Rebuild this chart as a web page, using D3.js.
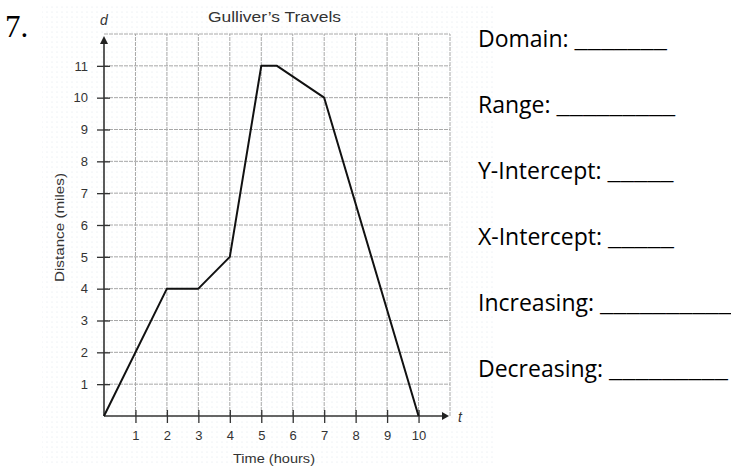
<!DOCTYPE html>
<html>
<head>
<meta charset="utf-8">
<script src="https://cdn.jsdelivr.net/npm/d3@7"></script>
<style>
  body { margin: 0; background: #fff; }
  svg { display: block; }
</style>
</head>
<body>
<script>
// time (hours) and distance (miles)
var times = [0, 2, 3, 4, 5, 5.5, 7, 10];
var distances = [0, 4, 4, 5, 11, 11, 10, 0];
var xTicks = [1, 2, 3, 4, 5, 6, 7, 8, 9, 10];
var yTicks = [1, 2, 3, 4, 5, 6, 7, 8, 9, 10, 11];
var labels = ["Domain:", "Range:", "Y-Intercept:", "X-Intercept:", "Increasing:", "Decreasing:"];
var blanks = [7, 9, 5, 5, 10, 9]; // underscores after each label

var svg = d3.select("body").append("svg")
    .attr("width", 731)
    .attr("height", 466);

// faint halftone dots of the scan
var defs = svg.append("defs");
defs.append("pattern")
    .attr("id", "dots")
    .attr("width", 5).attr("height", 5)
    .attr("patternUnits", "userSpaceOnUse")
  .append("circle")
    .attr("cx", 2).attr("cy", 2).attr("r", 0.6)
    .attr("fill", "#dde4ea");
svg.append("rect")
    .attr("x", 42).attr("y", 6)
    .attr("width", 453).attr("height", 460)
    .attr("fill", "url(#dots)");

var x = d3.scaleLinear().domain([0, 11]).range([104, 450]);
var y = d3.scaleLinear().domain([0, 12]).range([416, 34]);
var sans = "Liberation Sans, Arial, sans-serif";

// grid
var grid = svg.append("g").attr("stroke", "#a8a8a8").attr("stroke-width", 1)
    .attr("stroke-dasharray", "4,1");
grid.selectAll("line.v").data(d3.range(1, 12)).enter().append("line")
    .attr("class", "v")
    .attr("x1", function(d) { return x(d); }).attr("x2", function(d) { return x(d); })
    .attr("y1", y(0)).attr("y2", y(12));
grid.selectAll("line.h").data(d3.range(1, 13)).enter().append("line")
    .attr("class", "h")
    .attr("x1", x(0)).attr("x2", x(11))
    .attr("y1", function(d) { return y(d); }).attr("y2", function(d) { return y(d); });

// axes with ticks crossing the axis line
var xAxis = svg.append("g")
    .attr("transform", "translate(0," + y(0) + ")")
    .call(d3.axisBottom(x).tickValues(xTicks).tickSize(7).tickSizeOuter(0).tickPadding(8));
xAxis.select(".domain").remove();
xAxis.selectAll(".tick line").attr("y1", -6).attr("stroke", "#333").attr("stroke-width", 1.3);
xAxis.selectAll(".tick text").attr("font-family", sans)
    .attr("font-size", 13).attr("fill", "#333");

var yAxis = svg.append("g")
    .attr("transform", "translate(" + x(0) + ",0)")
    .call(d3.axisLeft(y).tickValues(yTicks).tickSize(7).tickSizeOuter(0).tickPadding(9));
yAxis.select(".domain").remove();
yAxis.selectAll(".tick line").attr("x1", 6).attr("stroke", "#333").attr("stroke-width", 1.3);
yAxis.selectAll(".tick text").attr("font-family", sans)
    .attr("font-size", 13).attr("fill", "#333");

// axis lines with arrowheads
svg.append("line")
    .attr("x1", x(0)).attr("x2", x(11) - 6)
    .attr("y1", y(0)).attr("y2", y(0))
    .attr("stroke", "#333").attr("stroke-width", 1.6);
svg.append("path")
    .attr("d", "M" + (x(11) - 8) + "," + (y(0) - 4) + "L" + (x(11) - 1) + "," + y(0) +
                "L" + (x(11) - 8) + "," + (y(0) + 4) + "Z")
    .attr("fill", "#222");
svg.append("line")
    .attr("x1", x(0)).attr("x2", x(0))
    .attr("y1", y(0)).attr("y2", y(12) + 8)
    .attr("stroke", "#333").attr("stroke-width", 1.6);
svg.append("path")
    .attr("d", "M" + (x(0) - 4) + "," + (y(12) + 10) + "L" + x(0) + "," + (y(12) + 2) +
                "L" + (x(0) + 4) + "," + (y(12) + 10) + "Z")
    .attr("fill", "#222");

// axis letters and titles
svg.append("text").attr("x", x(11) + 8).attr("y", y(0) + 6)
    .attr("font-family", sans).attr("font-style", "italic").attr("font-size", 14)
    .attr("fill", "#333").text("t");
svg.append("text").attr("x", x(0)).attr("y", 25)
    .attr("text-anchor", "middle")
    .attr("font-family", sans).attr("font-style", "italic").attr("font-size", 14)
    .attr("fill", "#333").text("d");
svg.append("text").attr("x", 208).attr("y", 22)
    .attr("textLength", 133).attr("lengthAdjust", "spacingAndGlyphs")
    .attr("font-family", sans).attr("font-size", 15.5)
    .attr("fill", "#333").text("Gulliver\u2019s Travels");
svg.append("text").attr("x", 233).attr("y", 463)
    .attr("textLength", 82).attr("lengthAdjust", "spacingAndGlyphs")
    .attr("font-family", sans).attr("font-size", 13)
    .attr("fill", "#333").text("Time (hours)");
svg.append("text")
    .attr("transform", "translate(64,282) rotate(-90)")
    .attr("textLength", 109).attr("lengthAdjust", "spacingAndGlyphs")
    .attr("font-family", sans).attr("font-size", 13.5)
    .attr("fill", "#333").text("Distance (miles)");

// the travel line
var line = d3.line()
    .x(function(d, i) { return x(times[i]); })
    .y(function(d, i) { return y(distances[i]); });
svg.append("path")
    .datum(times)
    .attr("d", line)
    .attr("fill", "none")
    .attr("stroke", "#111")
    .attr("stroke-width", 2)
    .attr("stroke-linejoin", "round");

// question number
svg.append("text").attr("x", 5).attr("y", 37)
    .attr("font-family", "Liberation Serif, Times New Roman, serif")
    .attr("font-size", 31).attr("fill", "#000").text("7.");

// worksheet prompts
var q = svg.selectAll("text.q").data(labels).enter().append("text")
    .attr("class", "q")
    .attr("x", 478)
    .attr("y", function(d, i) { return 47 + i * 66; })
    .attr("font-family", "Open Sans, sans-serif")
    .attr("font-size", 23)
    .attr("fill", "#000");
q.append("tspan").text(function(d) { return d + " "; });
q.append("tspan")
    .attr("textLength", function(d, i) { return blanks[i] * 13.2; })
    .attr("lengthAdjust", "spacingAndGlyphs")
    .text(function(d, i) { return d3.range(blanks[i]).map(function() { return "_"; }).join(""); });
</script>
</body>
</html>
